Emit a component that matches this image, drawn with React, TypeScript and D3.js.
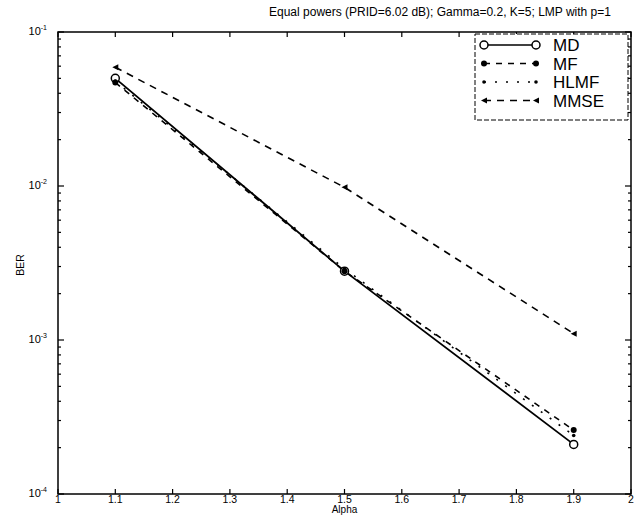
import React, { useEffect, useRef } from "react";
import * as d3 from "d3";

// values
const alpha = [1.1, 1.5, 1.9];
const seriesNames = ["MD", "MF", "HLMF", "MMSE"];
const md = [0.05, 0.0028, 0.00021];
const mf = [0.047, 0.0028, 0.00026];
const hlmf = [0.048, 0.0029, 0.00024];
const mmse = [0.059, 0.0098, 0.0011];
const xTicks = [1, 1.1, 1.2, 1.3, 1.4, 1.5, 1.6, 1.7, 1.8, 1.9, 2];
const xTickLabels = ["1", "1.1", "1.2", "1.3", "1.4", "1.5", "1.6", "1.7", "1.8", "1.9", "2"];
const yDecades = [1e-4, 1e-3, 1e-2, 1e-1];
const yExponents = ["-4", "-3", "-2", "-1"];
const title = "Equal powers (PRID=6.02 dB); Gamma=0.2, K=5; LMP with p=1";

const W = 636;
const H = 516;

export default function App() {
  const ref = useRef<SVGSVGElement>(null);

  useEffect(() => {
    const svg = d3.select(ref.current);
    svg.selectAll("*").remove();

    const left = 58, right = 631, top = 32, bottom = 494;
    const x = d3.scaleLinear().domain([1, 2]).range([left, right]);
    const y = d3.scaleLog().domain([1e-4, 1e-1]).range([bottom, top]);

    const font = "Arial, 'Liberation Sans', sans-serif";

    // axes box
    svg.append("rect")
      .attr("x", left).attr("y", top)
      .attr("width", right - left).attr("height", bottom - top)
      .attr("fill", "none").attr("stroke", "#000").attr("stroke-width", 1.5);

    // x ticks (inward, top and bottom)
    const g = svg.append("g").attr("stroke", "#000").attr("stroke-width", 1.2);
    xTicks.forEach(t => {
      g.append("line").attr("x1", x(t)).attr("x2", x(t)).attr("y1", bottom).attr("y2", bottom - 5);
      g.append("line").attr("x1", x(t)).attr("x2", x(t)).attr("y1", top).attr("y2", top + 5);
    });

    // y ticks, decades and minor
    const minors: number[] = [];
    yDecades.slice(0, 3).forEach(d => {
      for (let k = 2; k <= 9; k++) minors.push(d * k);
    });
    minors.forEach(v => {
      g.append("line").attr("x1", left).attr("x2", left + 3).attr("y1", y(v)).attr("y2", y(v));
      g.append("line").attr("x1", right).attr("x2", right - 3).attr("y1", y(v)).attr("y2", y(v));
    });
    yDecades.forEach(v => {
      g.append("line").attr("x1", left).attr("x2", left + 6).attr("y1", y(v)).attr("y2", y(v));
      g.append("line").attr("x1", right).attr("x2", right - 6).attr("y1", y(v)).attr("y2", y(v));
    });

    // tick labels
    svg.append("g")
      .selectAll("text")
      .data(xTicks)
      .join("text")
      .attr("x", d => x(d))
      .attr("y", 503)
      .attr("text-anchor", "middle")
      .attr("font-family", font)
      .attr("font-size", 10.5)
      .text((d, i) => xTickLabels[i]);

    const yl = svg.append("g")
      .selectAll("text")
      .data(yDecades)
      .join("text")
      .attr("x", left - 11)
      .attr("y", d => y(d) + 3)
      .attr("text-anchor", "end")
      .attr("font-family", font)
      .attr("font-size", 11);
    yl.text("10");
    yl.append("tspan")
      .attr("dy", -5)
      .attr("font-size", 7)
      .text((d, i) => yExponents[i]);

    svg.append("text")
      .attr("transform", `translate(24,265) rotate(-90)`)
      .attr("text-anchor", "middle")
      .attr("font-family", font)
      .attr("font-size", 10.5)
      .text("BER");

    svg.append("text")
      .attr("x", x(1.5))
      .attr("y", 513)
      .attr("text-anchor", "middle")
      .attr("font-family", font)
      .attr("font-size", 10)
      .text("Alpha");

    svg.append("text")
      .attr("x", 440)
      .attr("y", 16)
      .attr("text-anchor", "middle")
      .attr("font-family", font)
      .attr("font-size", 12)
      .text(title);

    // series
    const all = [md, mf, hlmf, mmse];
    const dashes = [null, "6,6", "2,9", "7,6"];
    const line = d3.line<number>()
      .x((d, i) => x(alpha[i]))
      .y(d => y(d));

    const drawMarker = (sel: any, kind: number, cx: number, cy: number) => {
      if (kind === 0) {
        sel.append("circle").attr("cx", cx).attr("cy", cy).attr("r", 4)
          .attr("fill", "#fff").attr("stroke", "#000").attr("stroke-width", 1.5);
      } else if (kind === 1) {
        sel.append("circle").attr("cx", cx).attr("cy", cy).attr("r", 3).attr("fill", "#000");
      } else if (kind === 2) {
        sel.append("circle").attr("cx", cx).attr("cy", cy).attr("r", 1.8).attr("fill", "#000");
      } else {
        sel.append("path")
          .attr("d", `M${cx - 3},${cy} L${cx + 3},${cy - 3} L${cx + 3},${cy + 3} Z`)
          .attr("fill", "#000");
      }
    };

    const plot = svg.append("g");
    all.forEach((vals, k) => {
      plot.append("path")
        .datum(vals)
        .attr("d", line)
        .attr("fill", "none")
        .attr("stroke", "#000")
        .attr("stroke-width", k === 0 ? 1.8 : 1.6)
        .attr("stroke-dasharray", dashes[k]);
    });
    all.forEach((vals, k) => {
      vals.forEach((v, i) => drawMarker(plot, k, x(alpha[i]), y(v)));
    });

    // legend
    const lx = 475, ly = 34, lw = 153, lh = 86;
    svg.append("rect")
      .attr("x", lx).attr("y", ly).attr("width", lw).attr("height", lh)
      .attr("fill", "#fff").attr("stroke", "#000").attr("stroke-width", 1)
      .attr("stroke-dasharray", "5,2");
    seriesNames.forEach((name, k) => {
      const ry = 45 + k * 18.5;
      svg.append("line")
        .attr("x1", 484).attr("x2", 536).attr("y1", ry).attr("y2", ry)
        .attr("stroke", "#000").attr("stroke-width", 1.5)
        .attr("stroke-dasharray", dashes[k]);
      drawMarker(svg, k, 484, ry);
      drawMarker(svg, k, 536, ry);
      svg.append("text")
        .attr("x", 553).attr("y", ry + 6)
        .attr("font-family", font)
        .attr("font-size", 17)
        .text(name);
    });
  }, []);

  return (
    <svg
      ref={ref}
      width={W}
      height={H}
      style={{ position: "absolute", left: 0, top: 0, background: "#fff" }}
    />
  );
}
